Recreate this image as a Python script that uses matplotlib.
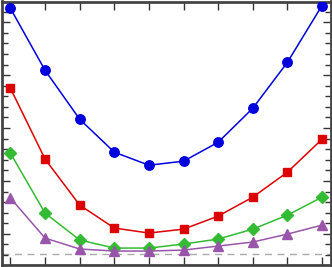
import matplotlib
matplotlib.use("Agg")
import matplotlib.pyplot as plt
from matplotlib.ticker import MultipleLocator

x = list(range(10))
blue = [23.30, 17.45, 12.83, 9.72, 8.49, 8.87, 10.66, 13.87, 18.21, 23.58]
red = [15.75, 9.06, 4.72, 2.55, 2.08, 2.45, 3.68, 5.47, 7.83, 10.94]
green = [9.62, 3.96, 1.42, 0.66, 0.66, 1.04, 1.51, 2.45, 3.77, 5.47]
purple = [5.38, 1.60, 0.57, 0.38, 0.38, 0.47, 0.85, 1.23, 1.98, 2.83]
baseline = 0.0

W, H = 332, 267
fig = plt.figure(figsize=(W / 100, H / 100), dpi=100)
ax = fig.add_axes([1.5 / W, 2 / H, 329.5 / W, 263.5 / H])

ax.axhline(baseline + 0.08, color="#aaaaaa", lw=1.0, ls=(0, (5, 4)), zorder=1)
ax.plot(x, blue, color="#0000dd", lw=1.1, marker="o", ms=6.8, zorder=3)
ax.plot(x, red, color="#dd0000", lw=1.1, marker="s", ms=6, zorder=3)
ax.plot(x, green, color="#33bb33", lw=1.1, marker="D", ms=5.8, zorder=3)
ax.plot(x, purple, color="#9955aa", lw=1.1, marker="^", ms=6.5, zorder=3)

ax.set_xlim(-0.26, 9.26)
ax.set_ylim(-0.94, 23.96)
ax.xaxis.set_major_locator(MultipleLocator(1))
ax.yaxis.set_major_locator(MultipleLocator(5, offset=2))
ax.yaxis.set_minor_locator(MultipleLocator(1))
ax.tick_params(which="both", direction="in", top=True, right=True,
               labelbottom=False, labelleft=False, color="#333333", width=1)
ax.tick_params(which="major", length=6)
ax.tick_params(which="minor", length=4)
for s in ax.spines.values():
    s.set_linewidth(2)
    s.set_color("#444444")

fig.savefig("out.png", dpi=100)
